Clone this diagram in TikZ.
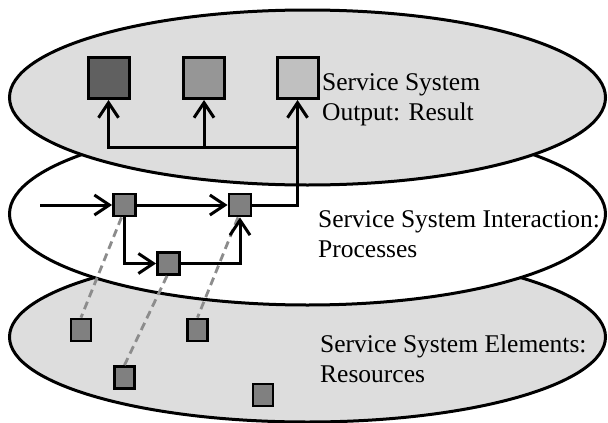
\documentclass[tikz,border=0pt]{standalone}
\usepackage{fontspec}
\setmainfont{Liberation Serif}
\usetikzlibrary{arrows.meta,shapes.geometric}
\definecolor{layer}{HTML}{DDDDDD}
\definecolor{dark}{HTML}{606060}
\definecolor{midg}{HTML}{969696}
\definecolor{lightg}{HTML}{C0C0C0}
\definecolor{proc}{HTML}{808080}
\definecolor{dashc}{HTML}{8C8C8C}
\tikzset{
  layershape/.style={ellipse, draw=black, line width=3pt, inner sep=0pt, minimum width=596pt},
  outbox/.style={draw=black, line width=3pt, minimum size=41pt, inner sep=0pt},
  procbox/.style={draw=black, line width=2.8pt, fill=proc, minimum size=22pt, inner sep=0pt},
  resbox/.style={draw=black, line width=2.8pt, fill=proc, minimum width=20pt, minimum height=22pt, inner sep=0pt},
  arr/.style={line width=3pt, -{Straight Barb[length=15pt,width=20pt,line width=3pt]}},
  link/.style={draw=dashc, line width=2.8pt, dash pattern=on 8pt off 5pt},
  lbl/.style={font=\fontsize{25.5}{30}\selectfont, align=left, inner sep=0pt}
}
\begin{document}
\begin{tikzpicture}[x=1pt,y=-1pt]
\useasboundingbox (0,0) rectangle (608,423);
% layers
\node[layershape, fill=layer, minimum height=170pt] (elements) at (307.5,337) {};
\node[layershape, fill=white, minimum height=182pt] (interaction) at (307.5,214) {};
\node[layershape, fill=layer, minimum height=175pt] (output) at (307.5,97.5) {};
% output boxes
\node[outbox, fill=dark] (o1) at (108.5,78) {};
\node[outbox, fill=midg] (o2) at (204,78) {};
\node[outbox, fill=lightg] (o3) at (297.5,78) {};
% process boxes
\node[procbox] (p1) at (124.5,205) {};
\node[procbox] (p2) at (240,205) {};
\node[procbox] (p3) at (168.5,263.5) {};
% resources
\node[resbox] (r1) at (81,330) {};
\node[resbox] (r2) at (197.5,330) {};
\node[resbox] (r3) at (124.5,377.5) {};
\node[resbox] (r4) at (263,395) {};
% dashed links
\draw[link] ([xshift=-3pt]p1.south) -- (r1.north);
\draw[link] ([xshift=-2pt]p2.south) -- (r2.north);
\draw[link] ([xshift=-1.5pt]p3.south) -- (r3.north);
% process flow
\coordinate (start) at (40,205);
\coordinate (jn) at (297.5,147);
\draw[arr] (start) -- (p1);
\draw[arr] (p1) -- (p2);
\draw[arr] (p1) |- (p3);
\draw[arr] (p3) -| (p2);
\draw[arr] (p2) -| (o3);
\draw[arr] (jn) -| (o1);
\draw[arr] (jn -| o2) -- (o2);
% labels
\node[lbl, anchor=base west] (t1) at (322,120.5) {Service System\\Output: Result};
\node[lbl, anchor=base west] (t2) at (318,257) {Service System Interaction:\\Processes};
\node[lbl, anchor=base west] (t3) at (320,382) {Service System Elements:\\Resources};
\end{tikzpicture}
\end{document}
